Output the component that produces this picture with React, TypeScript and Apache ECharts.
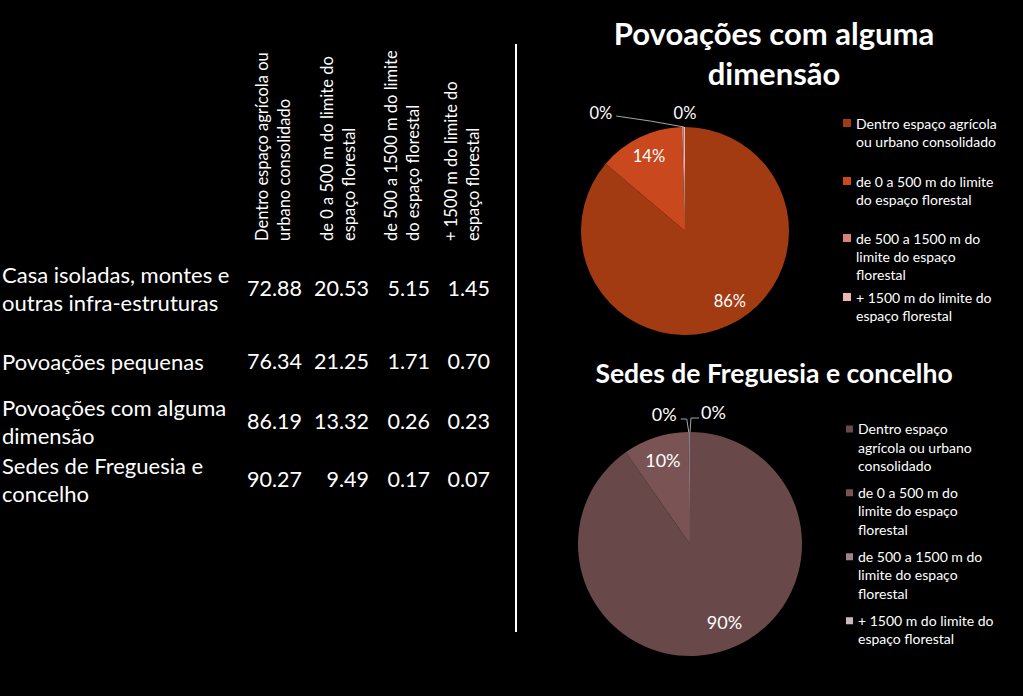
import React, { useEffect, useRef } from "react";
import * as echarts from "echarts";

// ---------- data ----------
const categories = [
  "Dentro espaço agrícola ou urbano consolidado",
  "de 0 a 500 m do limite do espaço florestal",
  "de 500 a 1500 m do limite do espaço florestal",
  "+ 1500 m do limite do espaço florestal",
];
const headerLabels = [
  "Dentro espaço agrícola ou\nurbano consolidado",
  "de 0 a 500 m do limite do\nespaço florestal",
  "de 500 a 1500 m do limite\ndo espaço florestal",
  "+ 1500 m do limite do\nespaço florestal",
];
const rowLabels = [
  "Casa isoladas, montes e\noutras infra-estruturas",
  "Povoações pequenas",
  "Povoações com alguma\ndimensão",
  "Sedes de Freguesia e\nconcelho",
];
const dentro = [72.88, 76.34, 86.19, 90.27];
const ate500 = [20.53, 21.25, 13.32, 9.49];
const ate1500 = [5.15, 1.71, 0.26, 0.17];
const mais1500 = [1.45, 0.7, 0.23, 0.07];

const topPieTitle = "Povoações com alguma\ndimensão";
const bottomPieTitle = "Sedes de Freguesia e concelho";
const topLegendLabels = [
  "Dentro espaço agrícola\nou urbano consolidado",
  "de 0 a 500 m do limite\ndo espaço florestal",
  "de 500 a 1500 m do\nlimite do espaço\nflorestal",
  "+ 1500 m do limite do\nespaço florestal",
];
const bottomLegendLabels = [
  "Dentro espaço\nagrícola ou urbano\nconsolidado",
  "de 0 a 500 m do\nlimite do espaço\nflorestal",
  "de 500 a 1500 m do\nlimite do espaço\nflorestal",
  "+ 1500 m do limite do\nespaço florestal",
];
const topRow = 2; // Povoações com alguma dimensão
const bottomRow = 3; // Sedes de Freguesia e concelho

// ---------- styles / layout ----------
const FONT = 'Lato, "Open Sans", sans-serif';
const topColors = ["#A23A12", "#CA481D", "#D98078", "#EDB6B3"];
const bottomColors = ["#684848", "#7A5454", "#9E838A", "#C9BAC0"];
const rowCenters = [288, 361, 421, 479];
const colRight = [302, 369, 430, 490];
const headerLineCenters = [262, 327, 391, 451];

const columns = [dentro, ate500, ate1500, mais1500];

function legendIcon(lines: number, lh: number, w: number) {
  const h = lines * lh;
  const a = lh / 2 - w / 2;
  const b = lh / 2 + w / 2;
  return `path://M0 0L0.01 0M0 ${a}L${w} ${a}L${w} ${b}L0 ${b}ZM0 ${h}L0.01 ${h}`;
}

function makeLegends(labels: string[], colors: string[], left: number, firstCenters: number[], lh: number, w: number) {
  return labels.map((lab, i) => {
    const lines = lab.split("\n").length;
    return {
      orient: "vertical",
      left,
      top: firstCenters[i] - lh / 2,
      padding: 0,
      itemGap: 0,
      itemWidth: w,
      itemHeight: lines * lh,
      selectedMode: false,
      icon: legendIcon(lines, lh, w),
      data: [{ name: categories[i], itemStyle: { color: colors[i], borderWidth: 0 } }],
      formatter: () => lab,
      textStyle: { color: "#ffffff", fontSize: 14, lineHeight: lh, fontFamily: FONT },
    };
  });
}

function pieSeries(values: number[], colors: string[], center: number[], radius: number, labelInner: number, fontSize: number, smallLayout: (p: any) => any, hideLine: boolean[]) {
  const data = categories.map((name, i) => ({ name, value: values[i], itemStyle: { color: colors[i] } }));
  const base = {
    type: "pie",
    center,
    startAngle: 90,
    clockwise: true,
    percentPrecision: 0,
    avoidLabelOverlap: false,
    silent: true,
    emphasis: { disabled: true },
  };
  return [
    {
      ...base,
      radius: [0, radius],
      data,
      label: { show: false },
      labelLine: { show: false },
      itemStyle: { borderWidth: 0 },
    },
    {
      ...base,
      radius: [labelInner, radius],
      data: data.map((d, i) => ({
        ...d,
        itemStyle: { color: "rgba(0,0,0,0)" },
        label: { position: i < 2 ? "inside" : "outside" },
        labelLine: { show: i >= 2 && !hideLine[i] },
      })),
      itemStyle: { borderWidth: 0 },
      label: { show: true, formatter: "{d}%", color: "#ffffff", fontSize, fontFamily: FONT },
      labelLine: { lineStyle: { color: "#a6a6a6", width: 1 } },
      labelLayout: smallLayout,
    },
  ];
}

const topSmallLayout = (p: any) => {
  if (p.dataIndex === 0) return { dx: 10, dy: -5 };
  if (p.dataIndex < 2) return {};
  const tx = p.rect.x + p.rect.width;
  const ty = p.rect.y;
  if (p.dataIndex === 2) {
    return {
      x: tx - 72, y: ty - 14, align: "right", verticalAlign: "middle",
      labelLinePoints: [[tx, ty], [tx - 34, ty - 6], [tx - 68, ty - 11]],
    };
  }
  return { x: tx, y: ty - 14, align: "center", verticalAlign: "middle" };
};

const bottomSmallLayout = (p: any) => {
  if (p.dataIndex === 0) return { dx: 8, dy: -6 };
  if (p.dataIndex < 2) return {};
  const tx = p.rect.x + p.rect.width;
  const ty = p.rect.y;
  if (p.dataIndex === 2) {
    return {
      x: tx - 13, y: ty - 18, align: "right", verticalAlign: "middle",
      labelLinePoints: [[tx - 1, ty], [tx - 3, ty - 13], [tx - 9, ty - 13]],
    };
  }
  return {
    x: tx + 11, y: ty - 20, align: "left", verticalAlign: "middle",
    labelLinePoints: [[tx, ty], [tx + 1, ty - 14], [tx + 9, ty - 14]],
  };
};

function buildOption() {
  const graphics: any[] = [];
  graphics.push({
    type: "line",
    shape: { x1: 516, y1: 44, x2: 516, y2: 632 },
    style: { stroke: "#ffffff", lineWidth: 2 },
    silent: true,
  });
  graphics.push({
    type: "text", x: 774, y: 53,
    style: { text: topPieTitle, fill: "#fff", font: `bold 31px ${FONT}`, align: "center", verticalAlign: "middle", lineHeight: 40 },
  });
  graphics.push({
    type: "text", x: 774, y: 373,
    style: { text: bottomPieTitle, fill: "#fff", font: `bold 26.5px ${FONT}`, align: "center", verticalAlign: "middle" },
  });
  headerLabels.forEach((h, i) => {
    graphics.push({
      type: "text", x: headerLineCenters[i] - 11, y: 241, rotation: Math.PI / 2,
      style: { text: h, fill: "#fff", font: `16.5px ${FONT}`, align: "left", verticalAlign: "top", lineHeight: 22 },
    });
  });
  rowLabels.forEach((r, i) => {
    graphics.push({
      type: "text", x: 2, y: rowCenters[i],
      style: { text: r, fill: "#fff", font: `22px ${FONT}`, align: "left", verticalAlign: "middle", lineHeight: 28 },
    });
  });
  columns.forEach((col, c) => {
    col.forEach((v, r) => {
      graphics.push({
        type: "text", x: colRight[c], y: rowCenters[r],
        style: { text: v.toFixed(2), fill: "#fff", font: `21.5px ${FONT}`, align: "right", verticalAlign: "middle" },
      });
    });
  });

  const topValues = columns.map((c) => c[topRow]);
  const bottomValues = columns.map((c) => c[bottomRow]);

  return {
    animation: false,
    backgroundColor: "#000000",
    graphic: graphics,
    legend: [
      ...makeLegends(topLegendLabels, topColors, 843, [123, 181, 238, 297], 18, 8),
      ...makeLegends(bottomLegendLabels, bottomColors, 846, [429, 492.7, 556.7, 620.7], 18.3, 7),
    ],
    series: [
      ...pieSeries(topValues, topColors, [685, 231], 104, 56, 16.5, topSmallLayout, [false, false, false, true]),
      ...pieSeries(bottomValues, bottomColors, [690, 544], 112, 58, 18, bottomSmallLayout, [false, false, false, false]),
    ],
  };
}

export default function App() {
  const ref = useRef<HTMLDivElement>(null);
  useEffect(() => {
    const chart = echarts.init(ref.current!, null, { renderer: "svg" });
    chart.setOption(buildOption() as any);
    return () => chart.dispose();
  }, []);
  return <div ref={ref} style={{ position: "absolute", left: 0, top: 0, width: 1023, height: 696 }} />;
}
